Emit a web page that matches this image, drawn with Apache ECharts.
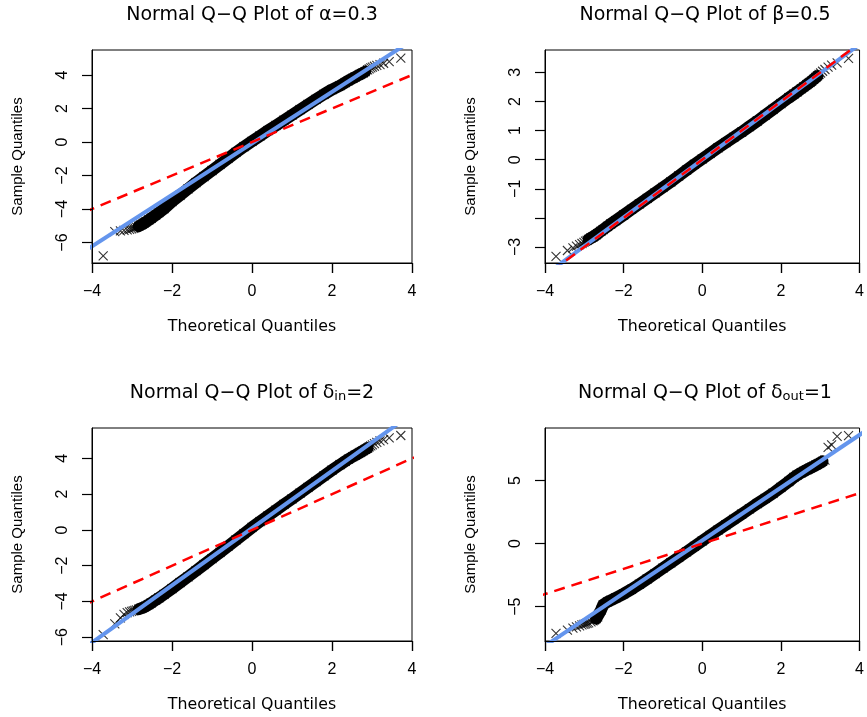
<!DOCTYPE html>
<html><head><meta charset="utf-8">
<script src="https://cdn.jsdelivr.net/npm/echarts@6/dist/echarts.min.js"></script>
<style>html,body{margin:0;padding:0;background:#fff}#c{width:867px;height:717px}</style>
</head><body><div id="c"></div>
<script>
// ---------- data ----------
const xTicks = [-4, -2, 0, 2, 4];
// theoretical quantiles (x positions of plotted points)
const theoQ = [-3.72,-3.43,-3.29,-3.20,-3.12,-3.06,-3.01,-2.97,-2.93,-2.89,-2.83,-2.78,-2.74,-2.70,-2.66,-2.58,-2.52,-2.41,-2.33,
  -2.2,-2.0,-1.8,-1.6,-1.4,-1.2,-1.0,-0.8,-0.6,-0.4,-0.2,0,0.2,0.4,0.6,0.8,1.0,1.2,1.4,1.6,1.8,2.0,2.2,
  2.33,2.41,2.52,2.58,2.66,2.70,2.74,2.78,2.83,2.89,2.93,2.97,3.01,3.06,3.12,3.20,3.29,3.43,3.72];
// sample quantiles
const alphaSample = [-6.80,-5.35,-5.30,-5.27,-5.24,-5.21,-5.18,-5.15,-5.12,-5.08,-5.02,-4.96,-4.90,-4.84,-4.78,-4.65,-4.55,-4.36,-4.22,
  -3.98,-3.55,-3.18,-2.80,-2.42,-2.06,-1.70,-1.34,-0.98,-0.62,-0.28,0.04,0.36,0.68,0.99,1.30,1.61,1.93,2.24,2.55,2.85,3.13,3.36,
  3.55,3.66,3.80,3.88,3.98,4.03,4.08,4.13,4.20,4.30,4.36,4.42,4.47,4.52,4.57,4.62,4.70,4.80,5.00];
const betaSample = [-3.32,-3.12,-3.03,-2.97,-2.92,-2.88,-2.84,-2.80,-2.77,-2.74,-2.69,-2.65,-2.62,-2.58,-2.54,-2.46,-2.40,-2.29,-2.21,
  -2.09,-1.90,-1.71,-1.52,-1.33,-1.14,-0.95,-0.76,-0.56,-0.36,-0.16,0.03,0.22,0.41,0.59,0.77,0.95,1.14,1.33,1.53,1.73,1.93,2.13,
  2.25,2.33,2.44,2.50,2.58,2.62,2.66,2.70,2.76,2.83,2.88,2.93,2.98,3.04,3.10,3.18,3.25,3.33,3.48];
const deltaInSample = [-5.85,-5.25,-4.92,-4.72,-4.62,-4.58,-4.55,-4.52,-4.50,-4.47,-4.43,-4.40,-4.36,-4.32,-4.27,-4.17,-4.08,-3.92,-3.80,
  -3.60,-3.28,-2.95,-2.62,-2.28,-1.94,-1.60,-1.26,-0.91,-0.56,-0.21,0.14,0.47,0.79,1.11,1.43,1.74,2.06,2.38,2.70,3.02,3.34,3.65,
  3.84,3.96,4.10,4.18,4.28,4.33,4.38,4.43,4.50,4.58,4.64,4.70,4.76,4.83,4.90,4.98,5.05,5.15,5.28];
const deltaOutSample = [-7.11,-6.85,-6.70,-6.60,-6.52,-6.45,-6.40,-6.36,-6.32,-6.28,-6.20,-6.12,-6.05,-5.95,-5.80,-5.30,-4.85,-4.62,-4.50,
  -4.30,-3.98,-3.62,-3.22,-2.80,-2.38,-1.94,-1.52,-1.09,-0.66,-0.22,0.22,0.65,1.07,1.49,1.91,2.33,2.75,3.17,3.58,3.99,4.45,4.92,
  5.25,5.42,5.62,5.72,5.85,5.92,5.98,6.04,6.12,6.22,6.28,6.35,6.42,6.52,6.62,7.62,7.82,8.50,8.55];
// fitted (blue) lines, endpoints
const alphaFit = [[-4.2,-6.53],[4.2,6.37]];
const betaFit = [[-4.2,-4.16],[4.2,4.16]];
const deltaInFit = [[-4.2,-6.62],[4.2,6.82]];
const deltaOutFit = [[-4.2,-8.53],[4.2,9.03]];
// reference y = x (red dashed)
const identityLine = [[-4.2,-4.2],[4.2,4.2]];
// y-axis ticks / labels
const alphaYTicks = [-6,-4,-2,0,2,4];
const betaYTicks = [-3,-2,-1,0,1,2,3];
const betaYLabels = [-3,-1,0,1,2,3];
const deltaInYTicks = [-6,-4,-2,0,2,4];
const deltaOutYTicks = [-5,0,5];
const titleParts = [
  ['Normal Q\u2212Q Plot of \u03b1=0.3', ''],
  ['Normal Q\u2212Q Plot of \u03b2=0.5', ''],
  ['Normal Q\u2212Q Plot of \u03b4', 'in', '=2'],
  ['Normal Q\u2212Q Plot of \u03b4', 'out', '=1']
];
const xName = 'Theoretical Quantiles';
const yName = 'Sample Quantiles';

// ---------- chart ----------
const fontH = '"DejaVu Sans", sans-serif';
const fontV = '"Liberation Sans", Arial, sans-serif';
const xMark = 'path://M0,0L10,10M10,0L0,10';
const grids = [
  {left: 92, top: 50, width: 320, height: 213},
  {left: 545, top: 50, width: 320, height: 213},
  {left: 92, top: 428, width: 320, height: 213},
  {left: 545, top: 428, width: 320, height: 213}
];
const yRanges = [[-7.22, 5.49], [-3.55, 3.77], [-6.21, 5.70], [-7.72, 9.16]];
const panels = [
  {s: alphaSample, fit: alphaFit, ticks: alphaYTicks, labels: alphaYTicks, band: [-2.83, 2.83]},
  {s: betaSample, fit: betaFit, ticks: betaYTicks, labels: betaYLabels, band: [-2.89, 2.93]},
  {s: deltaInSample, fit: deltaInFit, ticks: deltaInYTicks, labels: deltaInYTicks, band: [-2.83, 2.89]},
  {s: deltaOutSample, fit: deltaOutFit, ticks: deltaOutYTicks, labels: deltaOutYTicks, band: [-2.70, 3.06]}
];
const minus = v => String(v).replace('-', '\u2212');

const mainX = grids.map((g, i) => ({
  type: 'value', gridIndex: i, min: -4, max: 4, interval: 2, position: 'bottom', z: 10,
  axisLine: {show: true, onZero: false, lineStyle: {color: '#000', width: 1}}, splitLine: {show: false},
  axisTick: {show: true, inside: false, length: 10, lineStyle: {color: '#000', width: 1.2}},
  axisLabel: {show: true, margin: 21, color: '#000', fontFamily: fontV, fontSize: 16, formatter: minus,
    showMinLabel: true, showMaxLabel: true},
  name: xName, nameLocation: 'middle', nameGap: 56,
  nameTextStyle: {fontFamily: fontH, fontSize: 15.8, color: '#000'}
}));
// tick-only companion axes: moved 10px below the box, ticks pointing up to it
const tickX = grids.map((g, i) => ({
  type: 'value', gridIndex: i, min: -4, max: 4, interval: 2, position: 'bottom', offset: 10, z: 11,
  axisLine: {show: false, onZero: false}, splitLine: {show: false},
  axisTick: {show: true, inside: true, length: 10, customValues: xTicks, lineStyle: {color: '#000', width: 1.2}},
  axisLabel: {show: false}
}));

const option = {
  animation: false,
  backgroundColor: '#fff',
  grid: grids.map(g => Object.assign({show: true, borderColor: '#000', borderWidth: 1, backgroundColor: 'transparent', containLabel: false}, g)),
  title: titleParts.map((t, i) => {
    const g = grids[i];
    const text = t.length === 3 ? t[0] + '{s|' + t[1] + '}' + t[2] : t[0];
    return {
      text, left: g.left + g.width / 2, top: i < 2 ? 6 : 383, textAlign: 'center', padding: 0,
      textStyle: {fontFamily: fontH, fontSize: 19, fontWeight: 'normal', color: '#000',
        rich: {s: {fontFamily: fontH, fontSize: 13, color: '#000', padding: [7, 0, 0, 0], verticalAlign: 'bottom'}}}
    };
  }),
  xAxis: mainX.concat(tickX),
  yAxis: grids.map((g, i) => ({
    type: 'value', gridIndex: i, min: yRanges[i][0], max: yRanges[i][1], position: 'left', z: 10,
    axisLine: {show: true, onZero: false, lineStyle: {color: '#000', width: 1}}, splitLine: {show: false},
    axisTick: {show: true, inside: false, length: 10, customValues: panels[i].ticks, lineStyle: {color: '#000', width: 1.2}},
    axisLabel: {show: true, rotate: 90, margin: 21, color: '#000', fontFamily: fontV, fontSize: 16, formatter: minus,
      customValues: panels[i].labels},
    name: yName, nameLocation: 'middle', nameGap: 67, nameRotate: 90,
    nameTextStyle: {fontFamily: fontV, fontSize: 15, color: '#000'}
  })),
  series: []
};

panels.forEach((p, i) => {
  const pts = theoQ.map((x, k) => [x, p.s[k]]);
  const bandPts = pts.filter(d => d[0] >= p.band[0] && d[0] <= p.band[1]);
  option.series.push({
    type: 'line', xAxisIndex: i, yAxisIndex: i, data: bandPts, symbol: 'none', silent: true, z: 2,
    lineStyle: {color: '#000', width: 12, cap: 'round', join: 'round'}
  });
  option.series.push({
    type: 'scatter', xAxisIndex: i, yAxisIndex: i, data: pts, symbol: xMark, symbolSize: 9, silent: true, z: 3,
    itemStyle: {color: 'transparent', borderColor: '#000', borderWidth: 1.1}
  });
  option.series.push({
    type: 'line', xAxisIndex: i, yAxisIndex: i, data: p.fit, symbol: 'none', silent: true, z: 4, clip: true,
    lineStyle: {color: '#6495ED', width: 4}
  });
  option.series.push({
    type: 'line', xAxisIndex: i, yAxisIndex: i, data: identityLine, symbol: 'none', silent: true, z: 5, clip: true,
    lineStyle: {color: '#FF0000', width: 2.5, type: [11, 7]}
  });
});

const chart = echarts.init(document.getElementById('c'), null, {renderer: 'canvas'});
chart.setOption(option);
</script>
</body></html>
